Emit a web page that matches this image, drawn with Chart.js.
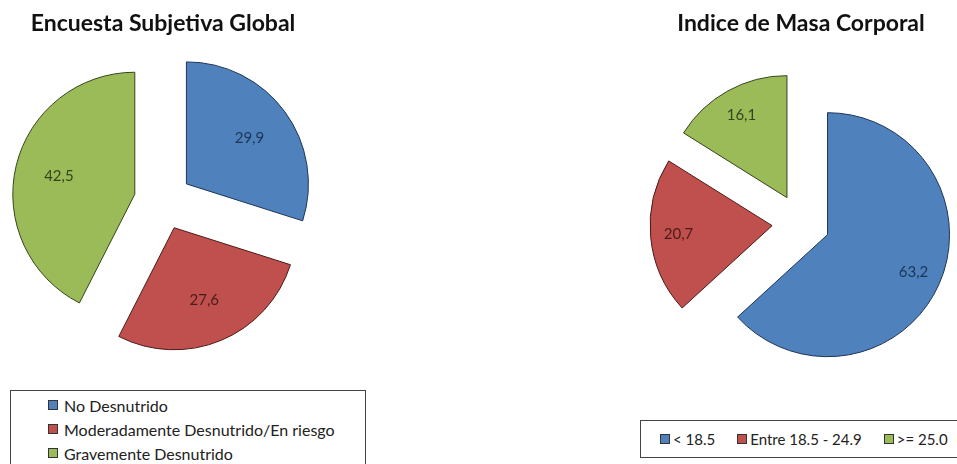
<!DOCTYPE html>
<html><head><meta charset="utf-8">
<script src="https://cdn.jsdelivr.net/npm/chart.js@4.4.0/dist/chart.umd.min.js"></script>
<style>
html,body{margin:0;padding:0;background:#fff;width:957px;height:464px;overflow:hidden;position:relative;font-family:Lato,'Open Sans',sans-serif;}
canvas{position:absolute;top:0;}
#c1{left:0;}
#c2{left:645px;}
.legend{position:absolute;border:1px solid #444;background:#fff;color:#222;box-sizing:border-box;white-space:nowrap;}
#leg1{left:10px;top:390px;width:356px;height:80px;padding:2px 0 0 37px;font-size:16px;}
#leg1 .item{display:flex;align-items:center;height:24px;}
.sw{display:inline-block;width:8px;height:8px;border:1px solid #333;margin-right:6px;flex:none;}
#leg2{left:640px;top:420px;width:318px;height:38px;display:flex;align-items:center;padding-left:19px;font-size:15px;}
#leg2 .item{display:flex;align-items:center;margin-right:22px;flex:none;}
#leg2 .sw{margin-right:3px;}
</style></head>
<body>
<canvas id="c1" width="326" height="358"></canvas>
<canvas id="c2" width="312" height="402"></canvas>
<div id="leg1" class="legend"></div>
<div id="leg2" class="legend"></div>
<script>
// ---- data ----
const esgTitle = 'Encuesta Subjetiva Global';
const esgCategories = ['No Desnutrido', 'Moderadamente Desnutrido/En riesgo', 'Gravemente Desnutrido'];
const esgValues = [29.9, 27.6, 42.5];

const imcTitle = 'Indice de Masa Corporal';
const imcCategories = ['< 18.5', 'Entre 18.5 - 24.9', '>= 25.0'];
const imcValues = [63.2, 20.7, 16.1];

// ---- styles ----
const fills = ['#4F81BD', '#C0504D', '#9BBB59'];
const darks = ['#1d3557', '#4a1b1a', '#34451a'];

// Exploded pie: move every slice outward along its bisector, keeping its radius
const explode = {
  id: 'explode',
  afterDatasetUpdate(chart, args, opts) {
    args.meta.data.forEach(arc => {
      const mid = (arc.startAngle + arc.endAngle) / 2;
      arc.x += Math.cos(mid) * opts.distance;
      arc.y += Math.sin(mid) * opts.distance;
    });
  }
};

const valueLabels = {
  id: 'valueLabels',
  afterDatasetsDraw(chart, args, opts) {
    const ctx = chart.ctx;
    const ds = chart.data.datasets[0];
    const meta = chart.getDatasetMeta(0);
    ctx.save();
    ctx.font = '15px Lato, "Open Sans", sans-serif';
    ctx.textAlign = 'center';
    ctx.textBaseline = 'middle';
    meta.data.forEach((arc, i) => {
      const mid = (arc.startAngle + arc.endAngle) / 2;
      const r = opts.factor * arc.outerRadius;
      ctx.fillStyle = darks[i];
      ctx.fillText(ds.data[i].toFixed(1).replace('.', ','), arc.x + Math.cos(mid) * r, arc.y + Math.sin(mid) * r);
    });
    ctx.restore();
  }
};

function makePie(id, title, labels, values, factor) {
  const titleSize = 23;
  return new Chart(document.getElementById(id), {
    type: 'pie',
    data: {
      labels: labels,
      datasets: [{
        data: values,
        backgroundColor: fills,
        borderColor: darks,
        borderWidth: 1
      }]
    },
    options: {
      responsive: false,
      animation: false,
      radius: 122,
      layout: { padding: 0 },
      plugins: {
        legend: { display: false },
        tooltip: { enabled: false },
        title: {
          display: true,
          text: title,
          color: '#111',
          font: { family: 'Lato, "Open Sans", sans-serif', size: titleSize, weight: 'bold', lineHeight: 1.2 },
          padding: { top: 10, bottom: 44 - 10 - titleSize * 1.2 }
        },
        explode: { distance: 29 },
        valueLabels: { factor: factor }
      }
    },
    plugins: [explode, valueLabels]
  });
}

makePie('c1', esgTitle, esgCategories, esgValues, 0.64);
makePie('c2', imcTitle, imcCategories, imcValues, 0.77);

function buildLegend(id, labels) {
  const el = document.getElementById(id);
  labels.forEach((t, i) => {
    const it = document.createElement('div');
    it.className = 'item';
    const sw = document.createElement('span');
    sw.className = 'sw';
    sw.style.background = fills[i];
    it.appendChild(sw);
    const tx = document.createElement('span');
    tx.textContent = t;
    it.appendChild(tx);
    el.appendChild(it);
  });
}
buildLegend('leg1', esgCategories);
buildLegend('leg2', imcCategories);
</script>
</body></html>
